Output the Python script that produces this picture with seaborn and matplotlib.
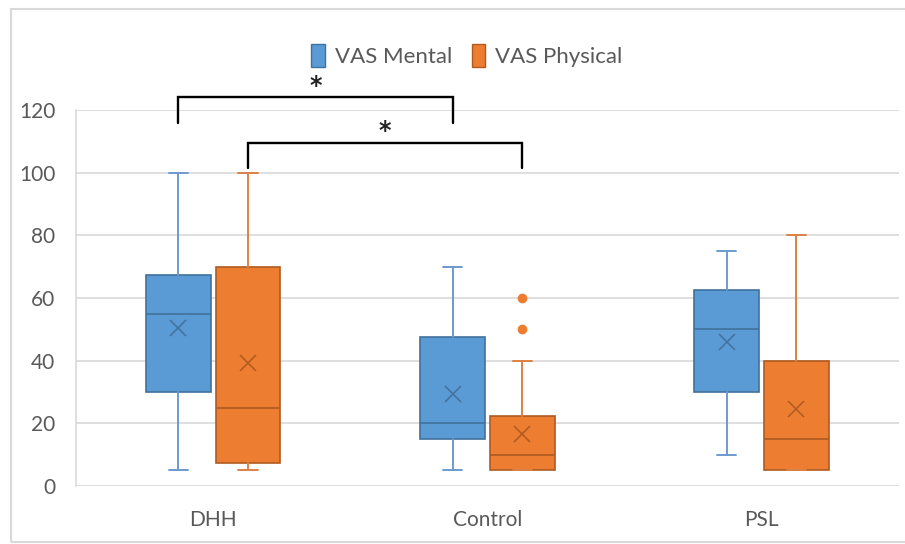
import seaborn as sns
import numpy as np
import matplotlib.pyplot as plt
from matplotlib.patches import Rectangle, Patch

# Data (five-number summaries per group)
groups = ['DHH', 'Control', 'PSL']
series = ['VAS Mental', 'VAS Physical']

mental_low = [5, 5, 10]
mental_q1 = [30, 15, 30]
mental_med = [55, 20, 50]
mental_q3 = [67.5, 47.5, 62.5]
mental_high = [100, 70, 75]
mental_mean = [50.3, 29.4, 45.8]
mental_fliers = [[], [], []]

physical_low = [5, 5, 5]
physical_q1 = [7.5, 5, 5]
physical_med = [25, 10, 15]
physical_q3 = [70, 22.5, 40]
physical_high = [100, 40, 80]
physical_mean = [39.3, 16.7, 24.7]
physical_fliers = [[], [50, 60], []]

# significance brackets: (group, series) of left box, (group, series) of right box, height, label
brackets = [(0, 0, 1, 0, 124.0, '*'), (0, 1, 1, 1, 109.5, '*')]

sns.set_theme(style="whitegrid")
plt.rcParams['font.family'] = ['Lato', 'DejaVu Sans']

colors = ['#5B9BD5', '#ED7D31']
edges = ['#41719C', '#AE5A21']
whisk = ['#6B9AD0', '#DC8145']
offset = 0.127
width = 0.236

fig = plt.figure(figsize=(9.05, 5.44), dpi=100)
ax = fig.add_axes([0.084, 0.1066, 0.909, 0.6912])

summary = [
    (mental_low, mental_q1, mental_med, mental_q3, mental_high, mental_mean, mental_fliers),
    (physical_low, physical_q1, physical_med, physical_q3, physical_high, physical_mean, physical_fliers),
]

for s, (lo, q1, med, q3, hi, mn, fl) in enumerate(summary):
    stats = []
    for i in range(len(groups)):
        stats.append(dict(whislo=lo[i], q1=q1[i], med=med[i], q3=q3[i], whishi=hi[i],
                          mean=mn[i], fliers=fl[i]))
    pos = np.arange(len(groups)) + (-offset if s == 0 else offset)
    ax.bxp(stats, positions=pos, widths=width, patch_artist=True, showmeans=True,
           capwidths=0.07,
           boxprops=dict(facecolor=colors[s], edgecolor=edges[s], linewidth=1.2),
           medianprops=dict(color=edges[s], linewidth=1.2),
           whiskerprops=dict(color=whisk[s], linewidth=1.4),
           capprops=dict(color=whisk[s], linewidth=1.4),
           meanprops=dict(marker='x', markeredgecolor=edges[s], markersize=11, markeredgewidth=1.1),
           flierprops=dict(marker='o', markerfacecolor=colors[s], markeredgecolor=colors[s], markersize=6))

ax.set_xlim(-0.5, 2.5)
ax.set_ylim(0, 120)
ax.set_yticks(np.arange(0, 121, 20))
ax.set_xticks(range(len(groups)))
ax.set_xticklabels(groups)
ax.grid(axis='y', color='#D9D9D9', linewidth=1.2)
ax.grid(axis='x', visible=False)
ax.set_facecolor('white')
for side in ['top', 'right', 'bottom']:
    ax.spines[side].set_visible(False)
ax.spines['left'].set_color('#D9D9D9')
ax.spines['left'].set_linewidth(1.2)
ax.tick_params(axis='both', colors='#595959', labelsize=15, length=0)
ax.tick_params(axis='y', pad=15)
ax.tick_params(axis='x', pad=17)

# significance brackets
for g1, s1, g2, s2, y, lab in brackets:
    x1 = g1 + (-offset if s1 == 0 else offset)
    x2 = g2 + (-offset if s2 == 0 else offset)
    ax.plot([x1, x1, x2, x2], [y - 8, y, y, y - 8], color='black', linewidth=1.7,
            clip_on=False, solid_joinstyle='miter')
    ax.text((x1 + x2) / 2, y + 3.8, lab, ha='center', va='center', fontsize=17,
            fontweight='bold', color='#222222', family='DejaVu Sans', clip_on=False)

handles = [Patch(facecolor=colors[k], edgecolor=edges[k], label=series[k]) for k in range(2)]
fig.legend(handles=handles, loc='center', bbox_to_anchor=(0.516, 0.898), ncol=2, frameon=False,
           fontsize=16, labelcolor='#595959', handlelength=0.6, handleheight=1.2,
           handletextpad=0.45, columnspacing=0.9)

# chart area border
fig.patches.append(Rectangle((11 / 905, 2 / 544), 1.0, 1 - 11 / 544,
                             transform=fig.transFigure, fill=False, edgecolor='#D9D9D9',
                             linewidth=1.5))

fig.savefig('out.png', dpi=100, facecolor='white')
